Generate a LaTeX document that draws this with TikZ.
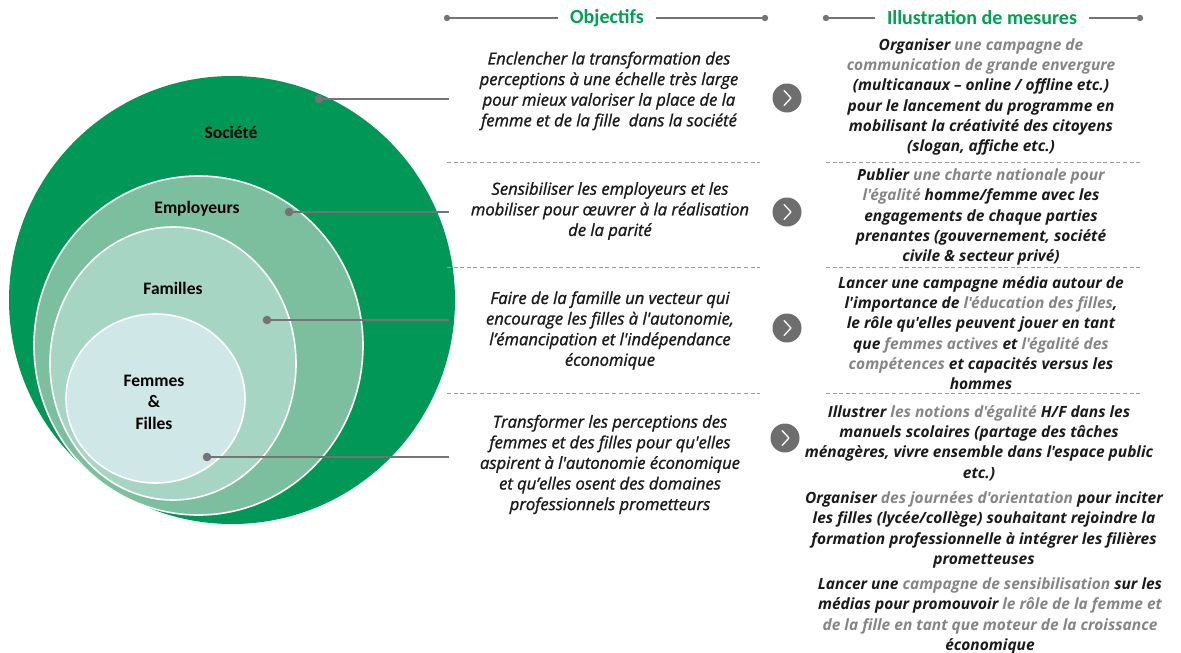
\documentclass[tikz,border=0pt]{standalone}
\usepackage{fontspec}
\setmainfont{Carlito}[Ligatures=TeXOff]
\newfontfamily\bodyfont{Open Sans}[Ligatures=TeXOff]
\newfontfamily\objfont{Open Sans}[Ligatures=TeXOff, FakeBold=1.2]
\usetikzlibrary{shapes.geometric}

\definecolor{societe}{HTML}{009757}
\definecolor{employ}{HTML}{7BBF9E}
\definecolor{famil}{HTML}{A7D5C4}
\definecolor{femmes}{HTML}{CFE7E6}
\definecolor{headgreen}{HTML}{00A152}
\definecolor{linegray}{HTML}{747474}
\definecolor{dashgray}{HTML}{9A9A9A}
\definecolor{txtgray}{HTML}{858585}
\definecolor{txtblack}{HTML}{1A1A1A}

\newcommand\gr[1]{{\color{txtgray}#1}}

\tikzset{
  ring/.style={ellipse, draw=white, line width=1.6pt, inner sep=0pt},
  ringlabel/.style={font=\fontsize{17.5}{21}\selectfont\bfseries, text=black, align=center},
  header/.style={font=\fontsize{20}{24}\selectfont\bfseries, text=headgreen, inner sep=12pt},
  headline/.style={draw=linegray, line width=2.4pt},
  enddot/.style={fill=linegray, draw=none},
  objtext/.style={font=\objfont\fontsize{16.6}{20.6}\selectfont\itshape, text=txtblack, align=center},
  mestext/.style={font=\bodyfont\fontsize{15.5}{20.3}\selectfont\itshape\bfseries, text=txtblack, align=center},
  sep/.style={draw=dashgray, line width=0.9pt, dash pattern=on 4pt off 2.6pt},
  leader/.style={draw=linegray, line width=2.6pt},
  chevron/.style={circle, fill=linegray!95!black, minimum size=29pt, inner sep=0pt},
  chevmark/.style={draw=white, line width=1.3pt, line cap=round, line join=round}
}

\begin{document}
\begin{tikzpicture}[x=1pt, y=-1pt]
\useasboundingbox (0,0) rectangle (1181,653);

% nested circles
\node[ring, fill=societe, draw=none, minimum width=446pt, minimum height=448pt] (soc) at (232,300) {};
\node[ring, fill=employ, minimum width=329pt, minimum height=339pt] (emp) at (198.5,345.5) {};
\node[ring, fill=famil, minimum width=246pt, minimum height=273pt] (fam) at (173,363.5) {};
\node[ring, fill=femmes, minimum width=179pt, minimum height=169pt] (fem) at (155.5,398.5) {};

\node[ringlabel] (lsoc) at (231,132) {Société};
\node[ringlabel] (lemp) at (197,209) {Employeurs};
\node[ringlabel] (lfam) at (173,288) {Familles};
\node[ringlabel, font=\fontsize{17.5}{21.5}\selectfont\bfseries] (lfem) at (154,402) {Femmes\\\&\\Filles};

% headers
\node[header] (hobj) at (607,18) {Objectifs};
\coordinate (hobjl) at (447,18);
\coordinate (hobjr) at (765,18);
\draw[headline] (hobjl) -- (hobj.west);
\draw[headline] (hobj.east) -- (hobjr);
\fill[enddot] (hobjl) circle (3.2pt);
\fill[enddot] (hobjr) circle (3.2pt);

\node[header] (hmes) at (982,18) {Illustration de mesures};
\coordinate (hmesl) at (826,18);
\coordinate (hmesr) at (1140,18);
\draw[headline] (hmesl) -- (hmes.west);
\draw[headline] (hmes.east) -- (hmesr);
\fill[enddot] (hmesl) circle (3.2pt);
\fill[enddot] (hmesr) circle (3.2pt);

% leaders from the circles to the objectives
\coordinate (d1) at (319,99);   \coordinate (e1) at (449,99);
\coordinate (d2) at (289,212);  \coordinate (e2) at (449,212);
\coordinate (d3) at (267,320);  \coordinate (e3) at (449,320);
\coordinate (d4) at (207,457);  \coordinate (e4) at (449,457);
\foreach \i in {1,2,3,4} {
  \draw[leader] (d\i) -- (e\i);
  \fill[enddot] (d\i) circle (4.3pt);
}

% separators
\foreach \y in {162,267,393} {
  \draw[sep] (447,\y) -- (760,\y);
  \draw[sep] (826,\y) -- (1140,\y);
}

% objectives
\node[objtext] (o1) at (609,91) {Enclencher la transformation des\\perceptions à une échelle très large\\pour mieux valoriser la place de la\\femme et de la fille\ \ dans la société};
\node[objtext] (o2) at (610,211) {Sensibiliser les employeurs et les\\mobiliser pour œuvrer à la réalisation\\de la parité};
\node[objtext] (o3) at (610,330.5) {Faire de la famille un vecteur qui\\encourage les filles à l'autonomie,\\l’émancipation et l'indépendance\\économique};
\node[objtext] (o4) at (610,464.5) {Transformer les perceptions des\\femmes et des filles pour qu'elles\\aspirent à l'autonomie économique\\et qu’elles osent des domaines\\professionnels prometteurs};

% chevron buttons
\node[chevron] (c1) at (787,98) {};
\node[chevron] (c2) at (787,212) {};
\node[chevron] (c3) at (787,328) {};
\node[chevron] (c4) at (785,438) {};
\foreach \i in {1,2,3,4} {
  \draw[chevmark] ([shift={(-3,-7.5)}]c\i.center) -- ([shift={(4,0)}]c\i.center) -- ([shift={(-3,7.5)}]c\i.center);
}

% measures
\node[mestext] (m1) at (981,97) {Organiser \gr{une campagne de}\\\gr{communication de grande envergure}\\(multicanaux – online / offline etc.)\\pour le lancement du programme en\\mobilisant la créativité des citoyens\\(slogan, affiche etc.)};
\node[mestext] (m2) at (981,217) {Publier \gr{une charte nationale pour}\\\gr{l'égalité} homme/femme avec les\\engagements de chaque parties\\prenantes (gouvernement, société\\civile \& secteur privé)};
\node[mestext] (m3) at (981,333) {Lancer une campagne média autour de\\l'importance de \gr{l'éducation des filles},\\le rôle qu'elles peuvent jouer en tant\\que \gr{femmes actives} et \gr{l'égalité des}\\\gr{compétences} et capacités versus les\\hommes};
\node[mestext] (m4) at (979,443) {Illustrer \gr{les notions d'égalité} H/F dans les\\manuels scolaires (partage des tâches\\ménagères, vivre ensemble dans l'espace public\\etc.)};
\node[mestext] (m5) at (984,530) {Organiser \gr{des journées d'orientation} pour inciter\\les filles (lycée/collège) souhaitant rejoindre la\\formation professionnelle à intégrer les filières\\prometteuses};
\node[mestext] (m6) at (990,616) {Lancer une \gr{campagne de sensibilisation} sur les\\médias pour promouvoir \gr{le rôle de la femme et}\\\gr{de la fille en tant que moteur de la croissance}\\économique};
\end{tikzpicture}
\end{document}
